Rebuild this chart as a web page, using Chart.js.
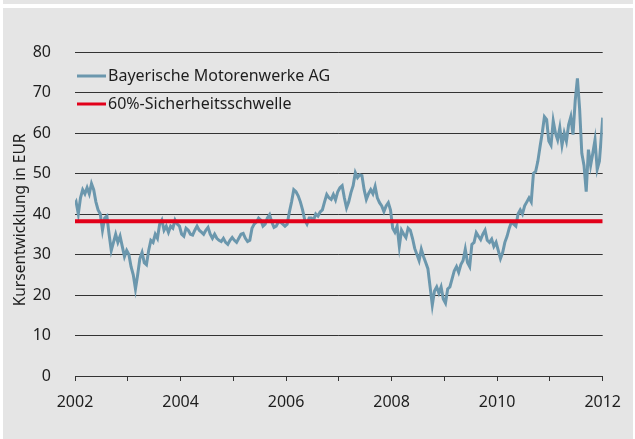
<!DOCTYPE html>
<html><head><meta charset="utf-8">
<script src="https://cdn.jsdelivr.net/npm/chart.js@4/dist/chart.umd.min.js"></script>
<style>
html,body{margin:0;padding:0;background:#fff;}
#strip{position:absolute;left:3px;top:0;width:630px;height:4px;background:#e5e5e5;}
#wrap{position:absolute;left:3px;top:8px;width:630px;height:431px;background:#e5e5e5;}
</style></head><body>
<div id="strip"></div>
<div id="wrap"><canvas id="c" width="630" height="431"></canvas></div>
<script>
// half-monthly readings of the BMW share price (EUR)
const years = [2002,2003,2004,2005,2006,2007,2008,2009,2010,2011];
const bmw2002 = [43,40,44,46,45,46.5,45,47.5,46,43,41,40,36,39,39.5,35,31,33,35,33,34.5,32,29.5,31];
const bmw2003 = [30,27,25,21.5,25,29,30.5,28,27.5,31,33.5,33,35,34,37.5,38.5,36,37,35.5,37,36.5,38.5,37.5,37];
const bmw2004 = [35,34.5,36.5,36,35,34.8,36,37,36,35.5,35,36,36.7,35,34,35,34,33.5,33.2,34,33,32.5,33.5,34.2];
const bmw2005 = [33.5,33,34,35,35.2,34,33.2,33.5,36.5,37.5,38,39,38.5,37,37.5,39,39.8,38,36.7,37,38,38,37.5,37];
const bmw2006 = [37.5,40.5,43,46,45.5,44.5,43,41,38.5,37.5,39,39,38.5,40,39.5,40.5,41,43,44.8,44,43.6,44.8,43.5,45.5];
const bmw2007 = [46.5,47,44,41.5,43,45.3,47,50.2,49,49.7,49.5,46,43.6,45,46,45,46.8,44,42.8,42,40.6,42,42.8,41];
const bmw2008 = [36.5,35.5,37,32,36,35,34.2,36.5,36,34,31.5,30,28.5,31.3,29.5,28,26.5,22,17.5,21,22,20.5,22,19];
const bmw2009 = [18,21.5,22,24,26,27,25.6,27.5,28.5,31.3,28,27,32.5,33,35.4,34.5,33.7,35,36,33.5,33,33.8,32,33];
const bmw2010 = [31,29,30.5,33,34.5,36.5,38,37.5,37,40,41,40,42,43,44,43,50,50.5,53,56.6,60,64,63.3,58];
const bmw2011 = [57,63,60,58.3,61.3,57,60,58,62,64,59.6,68,73.5,66,55,52,45.5,55.9,52,55,58.3,51,53,60];
const firstValue = 42.5;
const lastValue = 63.8;
const threshold = 38.2;
const seriesNames = ['Bayerische Motorenwerke AG', '60%-Sicherheitsschwelle'];
const labelledYears = [2002, 2004, 2006, 2008, 2010, 2012];
const yTicks = [0, 10, 20, 30, 40, 50, 60, 70, 80];
const axisTitle = 'Kursentwicklung in EUR';

const yearly = [bmw2002,bmw2003,bmw2004,bmw2005,bmw2006,bmw2007,bmw2008,bmw2009,bmw2010,bmw2011];
const bmwPoints = [{x: years[0], y: firstValue}];
yearly.forEach((vals, k) => vals.forEach((v, i) => bmwPoints.push({x: years[k] + (i + 0.5) / vals.length, y: v})));
bmwPoints.push({x: years[years.length - 1] + 1, y: lastValue});
const xMin = years[0], xMax = years[years.length - 1] + 1;

Chart.defaults.font.family = "'Noto Sans', sans-serif";
Chart.defaults.color = '#1e1e1e';

const insideLegend = {
  id: 'insideLegend',
  afterDatasetsDraw(chart) {
    const {ctx, chartArea: a} = chart;
    ctx.save();
    ctx.font = "16px 'Noto Sans', sans-serif";
    ctx.textBaseline = 'middle';
    ctx.fillStyle = '#1e1e1e';
    chart.data.datasets.forEach((ds, i) => {
      const y = a.top + 24 + i * 28;
      ctx.strokeStyle = ds.borderColor;
      ctx.lineWidth = 3;
      ctx.beginPath();
      ctx.moveTo(a.left + 2, y);
      ctx.lineTo(a.left + 31, y);
      ctx.stroke();
      ctx.fillText(ds.label, a.left + 33, y);
    });
    // rotated y-axis title
    ctx.translate(18, (a.top + a.bottom) / 2 + 6);
    ctx.rotate(-Math.PI / 2);
    ctx.textAlign = 'center';
    ctx.font = "15.5px 'Noto Sans', sans-serif";
    ctx.fillText(axisTitle, 0, 0);
    ctx.restore();
  }
};

new Chart(document.getElementById('c'), {
  type: 'line',
  data: {
    datasets: [
      {label: seriesNames[0], data: bmwPoints, borderColor: '#6b97ad', borderWidth: 3, pointRadius: 0, tension: 0, order: 2},
      {label: seriesNames[1], data: [{x: xMin, y: threshold}, {x: xMax, y: threshold}], borderColor: '#e2001a', borderWidth: 4, pointRadius: 0, order: 1}
    ]
  },
  options: {
    responsive: false,
    devicePixelRatio: 1,
    animation: false,
    layout: {padding: {top: 44, right: 28, left: 0, bottom: 0}},
    plugins: {legend: {display: false}, tooltip: {enabled: false}},
    scales: {
      x: {
        type: 'linear', min: xMin, max: xMax,
        afterBuildTicks: s => { s.ticks = []; for (let v = xMin; v <= xMax; v++) s.ticks.push({value: v}); },
        ticks: {autoSkip: false, maxRotation: 0, padding: 12, font: {size: 16},
          callback: v => labelledYears.includes(v) ? String(v) : ''},
        grid: {drawOnChartArea: false, drawTicks: true, tickLength: 5, tickColor: '#333', tickWidth: 1},
        border: {display: false},
        afterFit: s => { s.height = 63; }
      },
      y: {
        min: 0, max: 80,
        afterBuildTicks: s => { s.ticks = yTicks.map(v => ({value: v})); },
        ticks: {padding: 24, font: {size: 16}},
        grid: {color: '#333', lineWidth: 1, drawTicks: false},
        border: {display: false},
        title: {display: false},
        afterFit: s => { s.width = 72; }
      }
    }
  },
  plugins: [insideLegend]
});
</script>
</body></html>
